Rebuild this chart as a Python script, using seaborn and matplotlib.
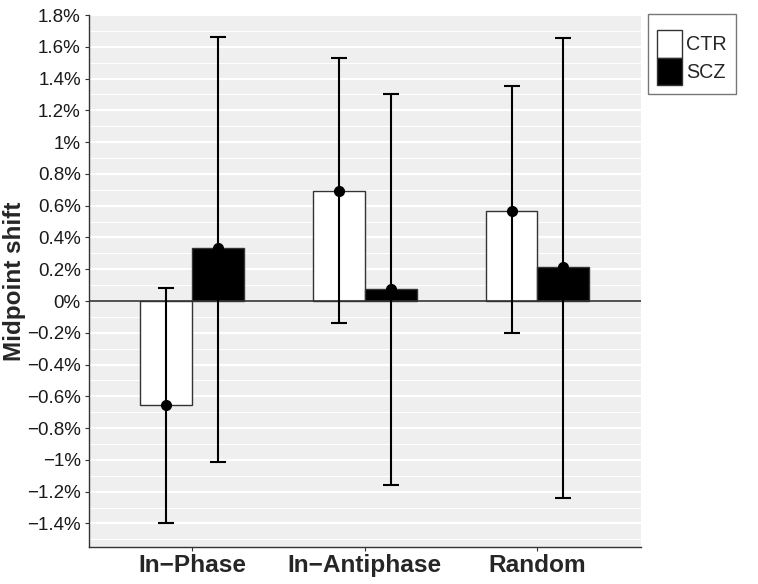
import numpy as np
import pandas as pd
import matplotlib
matplotlib.use("Agg")
import matplotlib.pyplot as plt
import seaborn as sns
from matplotlib.ticker import MultipleLocator, FuncFormatter
from matplotlib.patches import Patch

# DATA (midpoint shift in %)
conditions = ["In\u2212Phase", "In\u2212Antiphase", "Random"]
groups = ["CTR", "SCZ"]
ctr_mean = [-0.656, 0.694, 0.568]
ctr_low = [-1.399, -0.139, -0.203]
ctr_high = [0.084, 1.527, 1.352]
scz_mean = [0.332, 0.074, 0.213]
scz_low = [-1.011, -1.157, -1.237]
scz_high = [1.664, 1.300, 1.653]

df = pd.DataFrame({
    "condition": conditions * 2,
    "group": ["CTR"] * 3 + ["SCZ"] * 3,
    "mean": ctr_mean + scz_mean,
    "low": ctr_low + scz_low,
    "high": ctr_high + scz_high,
})

sns.set_style("white")
plt.rcParams["font.family"] = ["Liberation Sans", "DejaVu Sans"]

fig = plt.figure(figsize=(7.58, 5.84), dpi=100)
ax = fig.add_axes([88.5 / 758, 1 - 547 / 584, (641 - 88.5) / 758, (547 - 15) / 584])
ax.set_facecolor("#efefef")

# GRID (ggplot style)
ax.yaxis.set_major_locator(MultipleLocator(0.2))
ax.yaxis.set_minor_locator(MultipleLocator(0.1))
ax.grid(which="major", color="white", linewidth=1.6)
ax.grid(which="minor", axis="y", color="white", linewidth=0.8)
ax.set_axisbelow(True)

palette = {"CTR": "white", "SCZ": "black"}
sns.barplot(data=df, x="condition", y="mean", hue="group", order=conditions,
            hue_order=groups, palette=palette, width=0.6, edgecolor="#333333",
            linewidth=1.0, errorbar=None, legend=False, ax=ax, zorder=2)

ax.axhline(0, color="#333333", linewidth=1.2, zorder=3)

# ERROR BARS + MEAN POINTS
for k, g in enumerate(groups):
    sub = df[df["group"] == g].set_index("condition").loc[conditions]
    xs = [p.get_x() + p.get_width() / 2 for p in ax.containers[k]]
    ax.errorbar(xs, sub["mean"],
                yerr=[sub["mean"] - sub["low"], sub["high"] - sub["mean"]],
                fmt="o", color="black", markersize=7, elinewidth=1.5,
                capsize=6, capthick=1.5, zorder=4)

ax.set_xlim(-0.6, 2.6)
ax.set_ylim(-1.548, 1.8)

def pct(v, pos):
    v = round(v, 1)
    s = f"{abs(v):g}%"
    return ("\u2212" + s) if v < 0 else s

ax.yaxis.set_major_formatter(FuncFormatter(pct))
ax.tick_params(axis="y", which="major", labelsize=13.5, length=3, color="#333333",
               labelcolor="#1a1a1a", left=True, pad=2.5)
ax.tick_params(axis="y", which="minor", left=False)
ax.tick_params(axis="x", labelsize=17.6, length=3, color="#333333", bottom=True, pad=2)
for lab in ax.get_xticklabels():
    lab.set_fontweight("bold")

ax.set_xlabel("")
ax.set_ylabel("Midpoint shift", fontsize=17.5, fontweight="bold")
ax.yaxis.set_label_coords(-0.113, 0.5)

for s in ["top", "right"]:
    ax.spines[s].set_visible(False)
for s in ["left", "bottom"]:
    ax.spines[s].set_color("#333333")
    ax.spines[s].set_linewidth(1.0)

# LEGEND
handles = [Patch(facecolor=palette[g], edgecolor="#333333", linewidth=1.0) for g in groups]
fig.legend(handles, groups, loc="upper left", bbox_to_anchor=(648 / 758, 1 - 14 / 584),
           frameon=True, fancybox=False, edgecolor="#555555", fontsize=14.2,
           title=" ", title_fontsize=6,
           handlelength=1.27, handleheight=1.77, labelspacing=0.0,
           handletextpad=0.2, borderpad=0.46, borderaxespad=0)

plt.savefig("out.png", dpi=100)
